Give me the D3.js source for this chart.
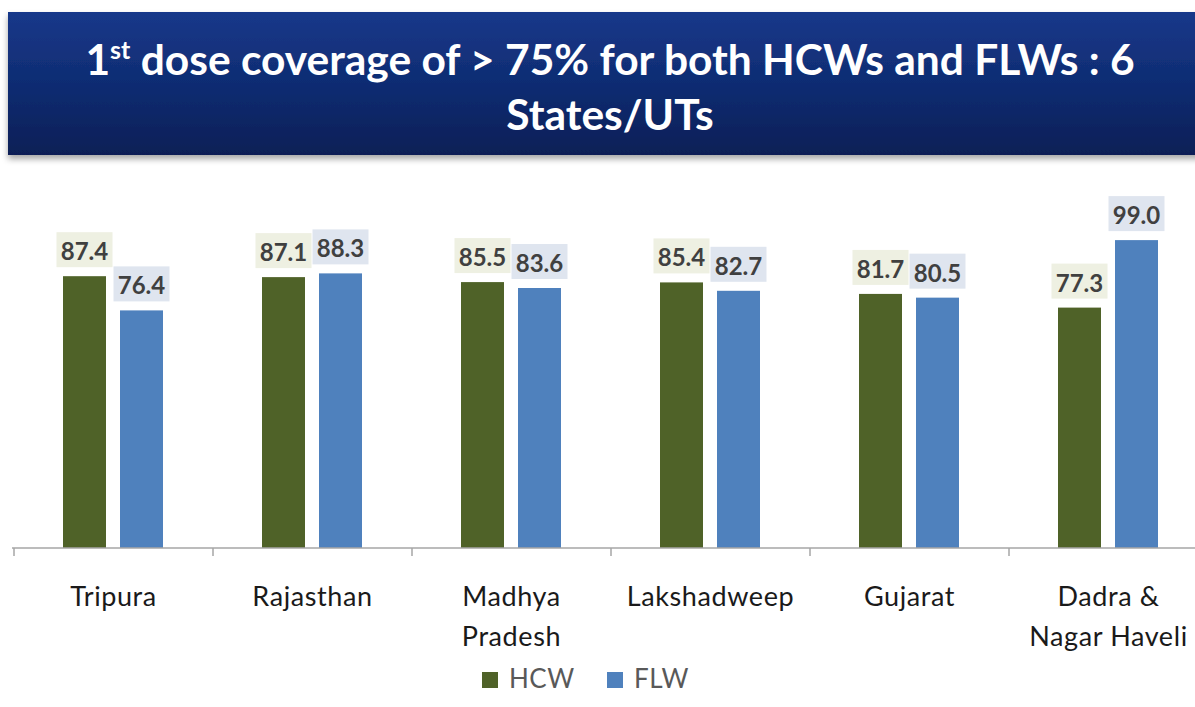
<!DOCTYPE html>
<html>
<head>
<meta charset="utf-8">
<script src="https://cdn.jsdelivr.net/npm/d3@7"></script>
<style>
  body { margin: 0; background: #fff; }
  svg { display: block; }
</style>
</head>
<body>
<div id="chart"></div>
<script>
// data
var categories = ["Tripura", "Rajasthan", "Madhya Pradesh", "Lakshadweep", "Gujarat", "Dadra & Nagar Haveli"];
var categoryLines = [["Tripura"], ["Rajasthan"], ["Madhya", "Pradesh"], ["Lakshadweep"], ["Gujarat"], ["Dadra &", "Nagar Haveli"]];
var seriesNames = ["HCW", "FLW"];
var hcw = [87.4, 87.1, 85.5, 85.4, 81.7, 77.3];
var flw = [76.4, 88.3, 83.6, 82.7, 80.5, 99.0];

var W = 1195, H = 707;
var FONT = "Lato, 'Open Sans', sans-serif";
var colors = {HCW: "#4f6228", FLW: "#4f81bd"};
var labelBg = {HCW: "#eef0e2", FLW: "#dfe5ef"};

var svg = d3.select("#chart").append("svg")
	.attr("width", W).attr("height", H);

var defs = svg.append("defs");
var grad = defs.append("linearGradient").attr("id", "banner")
	.attr("x1", 0).attr("y1", 0).attr("x2", 0).attr("y2", 1);
grad.append("stop").attr("offset", "0%").attr("stop-color", "#18388a");
grad.append("stop").attr("offset", "55%").attr("stop-color", "#0e2b70");
grad.append("stop").attr("offset", "100%").attr("stop-color", "#0a1f56");
var sh = defs.append("filter").attr("id", "shadow")
	.attr("x", "-5%").attr("y", "-5%").attr("width", "110%").attr("height", "125%");
sh.append("feDropShadow").attr("dx", 0).attr("dy", 4).attr("stdDeviation", 3)
	.attr("flood-color", "#000").attr("flood-opacity", 0.35);

// title banner
svg.append("rect").attr("x", 8).attr("y", 12).attr("width", W).attr("height", 143)
	.attr("fill", "url(#banner)").attr("filter", "url(#shadow)");

var title = svg.append("text")
	.attr("text-anchor", "middle")
	.attr("font-family", FONT)
	.attr("font-weight", "bold").attr("font-size", 42.5)
	.attr("fill", "#fff");
var l1 = title.append("tspan").attr("x", 610).attr("y", 75);
l1.append("tspan").text("1");
l1.append("tspan").attr("font-size", 25).attr("dy", -16).text("st");
l1.append("tspan").attr("dy", 16).text(" dose coverage of > 75% for both HCWs and FLWs : 6");
title.append("tspan").attr("x", 610).attr("y", 130).text("States/UTs");

// scales
var baseY = 548;
var x = d3.scaleBand().domain(categories).range([14, 14 + 199 * 6]).padding(0);
var xs = d3.scaleBand().domain(seriesNames).range([49, 149]).paddingInner(14 / 57).paddingOuter(0);
var y = d3.scaleLinear().domain([0, 100]).range([baseY, 237]);

var rows = categories.map(function(c, i) {
	return {cat: c, lines: categoryLines[i], vals: [{s: "HCW", v: hcw[i]}, {s: "FLW", v: flw[i]}]};
});

var g = svg.append("g");
var groups = g.selectAll(".cat").data(rows).enter().append("g")
	.attr("class", "cat")
	.attr("transform", function(d) { return "translate(" + x(d.cat) + ",0)"; });

groups.selectAll("rect.bar").data(function(d) { return d.vals; }).enter().append("rect")
	.attr("class", "bar")
	.attr("x", function(d) { return xs(d.s); })
	.attr("width", xs.bandwidth())
	.attr("y", function(d) { return y(d.v); })
	.attr("height", function(d) { return baseY - y(d.v); })
	.attr("fill", function(d) { return colors[d.s]; });

// value labels with tinted boxes
var lab = groups.selectAll("g.lab").data(function(d) { return d.vals; }).enter().append("g")
	.attr("class", "lab")
	.attr("transform", function(d) {
		return "translate(" + (xs(d.s) + xs.bandwidth() / 2) + "," + y(d.v) + ")";
	});
lab.append("rect").attr("x", -28).attr("y", -44).attr("width", 56).attr("height", 35)
	.attr("fill", function(d) { return labelBg[d.s]; });
lab.append("text").attr("text-anchor", "middle").attr("y", -16)
	.attr("font-family", FONT)
	.attr("font-weight", "bold").attr("font-size", 24)
	.attr("fill", "#404040")
	.text(function(d) { return d.v.toFixed(1); });

// axis
var axis = d3.axisBottom(x).tickSize(0).tickFormat("");
var ax = svg.append("g").attr("transform", "translate(0," + baseY + ")").call(axis);
ax.select(".domain").remove();
ax.append("line").attr("x1", 12).attr("x2", W).attr("stroke", "#a6a6a6").attr("stroke-width", 1.5);
ax.selectAll("line.tk").data(d3.range(7)).enter().append("line").attr("class", "tk")
	.attr("x1", function(i) { return 14 + x.step() * i; })
	.attr("x2", function(i) { return 14 + x.step() * i; })
	.attr("y1", 0).attr("y2", 8)
	.attr("stroke", "#a6a6a6").attr("stroke-width", 1.5);

var cl = g.selectAll(".clab").data(rows).enter().append("text")
	.attr("class", "clab")
	.attr("text-anchor", "middle")
	.attr("font-family", FONT)
	.attr("font-size", 27).attr("letter-spacing", 0.6).attr("fill", "#1a1a1a");
cl.selectAll("tspan").data(function(d) {
		return d.lines.map(function(t) { return {t: t, c: d.cat}; });
	}).enter().append("tspan")
	.attr("x", function(d) { return x(d.c) + x.bandwidth() / 2; })
	.attr("y", function(d, i) { return 606 + i * 40; })
	.text(function(d) { return d.t; });

// legend
var legend = svg.append("g").selectAll("g").data(seriesNames).enter().append("g")
	.attr("transform", function(d, i) { return "translate(" + (482 + i * 125) + ",672)"; });
legend.append("rect").attr("width", 16).attr("height", 16)
	.attr("fill", function(d) { return colors[d]; });
legend.append("text").attr("x", 27).attr("y", 16)
	.attr("font-family", FONT)
	.attr("font-size", 26).attr("letter-spacing", 0.5).attr("fill", "#595959")
	.text(function(d) { return d; });
</script>
</body>
</html>
